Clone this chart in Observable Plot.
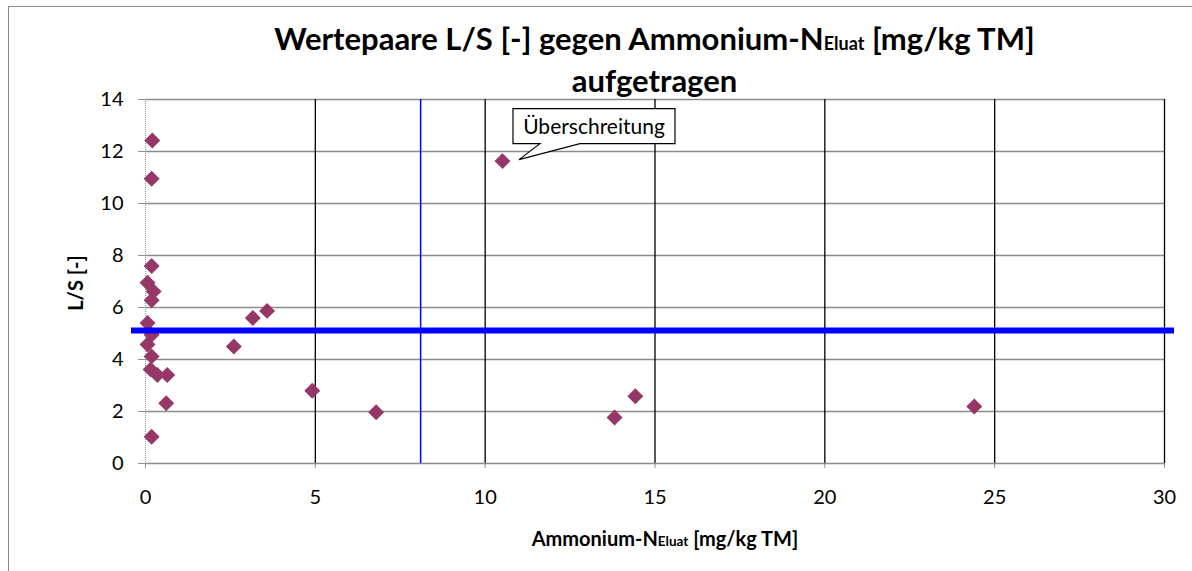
<!DOCTYPE html>
<html>
<head>
<meta charset="utf-8">
<script src="https://cdn.jsdelivr.net/npm/d3@7"></script>
<script src="https://cdn.jsdelivr.net/npm/@observablehq/plot@0.6"></script>
<style>
  html, body { margin: 0; padding: 0; background: #fff; overflow: hidden; }
  #wrap { position: relative; width: 1192px; height: 571px; overflow: hidden; }
  #frame { position: absolute; left: 8px; top: 6px; width: 1200px; height: 600px; border: 1.5px solid #8c8c8c; box-sizing: border-box; }
  #chart { position: absolute; left: 0; top: 0; }
</style>
</head>
<body>
<div id="wrap"><div id="frame"></div><div id="chart"></div></div>
<script>
// Data
const ammoniumN = [0.20, 0.18, 0.18, 0.06, 0.24, 0.18, 0.06, 0.18, 0.06, 0.18, 0.15, 0.35, 0.64, 0.61, 0.18, 2.60, 3.16, 3.58, 4.91, 6.79, 10.51, 13.81, 14.42, 24.40];
const lsValues  = [12.42, 10.95, 7.60, 6.95, 6.62, 6.28, 5.40, 4.95, 4.58, 4.12, 3.62, 3.40, 3.40, 2.32, 1.03, 4.50, 5.60, 5.87, 2.80, 1.97, 11.63, 1.77, 2.59, 2.19];
const xTicks = [0, 5, 10, 15, 20, 25, 30];
const yTicks = [0, 2, 4, 6, 8, 10, 12, 14];
const lsLimit = 5.12;       // horizontal limit line L/S
const ammoniumLimit = 8.1;  // vertical limit line
const calloutIndex = 20;
const calloutLabel = "Überschreitung";
const titleLine1 = ["Wertepaare L/S [-] gegen Ammonium-N", "Eluat", " [mg/kg TM]"];
const titleLine2 = "aufgetragen";
const xLabel = ["Ammonium-N", "Eluat", " [mg/kg TM]"];
const yLabel = "L/S [-]";

const points = ammoniumN.map((x, i) => ({x, y: lsValues[i]}));
const font = "Lato, 'Open Sans', sans-serif";

const plot = Plot.plot({
  width: 1192,
  height: 571,
  marginTop: 99,
  marginBottom: 108,
  marginLeft: 145,
  marginRight: 28,
  style: {fontFamily: font, fontSize: "20px", color: "#000", background: "transparent", overflow: "visible"},
  x: {domain: [0, 30], ticks: xTicks},
  y: {domain: [0, 14], ticks: yTicks},
  marks: [
    Plot.ruleY(yTicks.filter(d => d > 0), {stroke: "#8c8c8c", strokeWidth: 1.5}),
    Plot.ruleX(xTicks.filter(d => d > 0), {stroke: "#000", strokeWidth: 1.3}),
    Plot.ruleY([0], {stroke: "#8c8c8c", strokeWidth: 1.5}),
    Plot.ruleX([0], {stroke: "#999", strokeWidth: 1.2, strokeDasharray: "1,1"}),
    Plot.axisX({ticks: xTicks, tickSize: 5, tickPadding: 21, stroke: "#8c8c8c", label: null, fill: "#000"}),
    Plot.axisY({ticks: yTicks, tickSize: 7, tickPadding: 15, stroke: "#8c8c8c", label: null, fill: "#000"}),
    Plot.dot(points, {x: "x", y: "y", symbol: "diamond2", r: 7.2, fill: "#953767", stroke: "none"}),
    Plot.ruleX([ammoniumLimit], {stroke: "#0000ff", strokeWidth: 1.5}),
    Plot.ruleY([lsLimit], {stroke: "#0000ff", strokeWidth: 6, insetLeft: -14, insetRight: -10})
  ]
});
document.getElementById("chart").append(plot);

const svg = d3.select(plot);
const sx = plot.scale("x"), sy = plot.scale("y");
const cx = (145 + 1192 - 28) / 2;

function richText(g, parts, x, y, size, smallSize) {
  const t = g.append("text").attr("x", x).attr("y", y).attr("text-anchor", "middle")
    .attr("font-family", font).attr("font-weight", "bold").attr("font-size", size).attr("fill", "#000");
  t.append("tspan").text(parts[0]);
  t.append("tspan").attr("font-size", smallSize).text(parts[1]);
  t.append("tspan").text(parts[2]);
  return t;
}
// Title
richText(svg, titleLine1, cx, 50, 31, 18);
svg.append("text").attr("x", cx).attr("y", 92).attr("text-anchor", "middle")
  .attr("font-family", font).attr("font-weight", "bold").attr("font-size", 31).attr("fill", "#000").text(titleLine2);

// Axis labels
richText(svg, xLabel, 665, 546, 20, 13.5);
svg.append("text").attr("transform", "translate(76,283) rotate(-90)").attr("text-anchor", "middle")
  .attr("dy", "0.35em")
  .attr("font-family", font).attr("font-weight", "bold").attr("font-size", 20).attr("fill", "#000").text(yLabel);

// Callout anchored to the exceeding point
const px = sx.apply(ammoniumN[calloutIndex]), py = sy.apply(lsValues[calloutIndex]);
const g = svg.append("g").attr("transform", `translate(${px},${py})`);
g.append("path").attr("d", "M11,-52 H173 V-17 H78 L17,-1 L38,-17 H11 Z")
  .attr("fill", "#fff").attr("stroke", "#000").attr("stroke-width", 1.2);
g.append("text").attr("x", 92).attr("y", -27).attr("text-anchor", "middle")
  .attr("font-family", font).attr("font-size", 21).attr("fill", "#000").text(calloutLabel);
</script>
</body>
</html>
